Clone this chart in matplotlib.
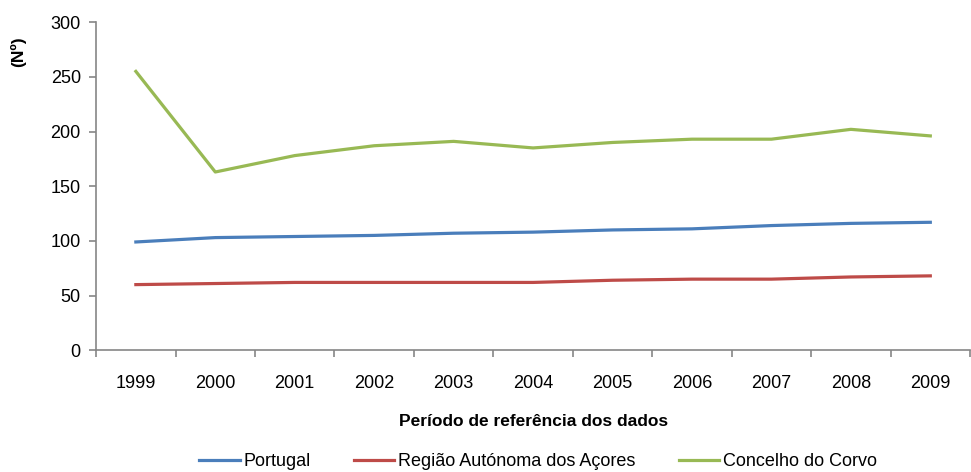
import matplotlib.pyplot as plt
from matplotlib.ticker import FixedLocator

plt.rcParams['font.family'] = ['Liberation Sans', 'DejaVu Sans']

# dados
anos = ['1999', '2000', '2001', '2002', '2003', '2004', '2005', '2006', '2007', '2008', '2009']
portugal = [99, 103, 104, 105, 107, 108, 110, 111, 114, 116, 117]
acores = [60, 61, 62, 62, 62, 62, 64, 65, 65, 67, 68]
corvo = [255, 163, 178, 187, 191, 185, 190, 193, 193, 202, 196]

fig = plt.figure(figsize=(9.71, 4.72), dpi=100)
ax = fig.add_axes([0.099, 0.258, 0.900, 0.695])

x = list(range(len(anos)))
ax.plot(x, portugal, color='#4A7EBB', lw=2.3, label='Portugal')
ax.plot(x, acores, color='#BE4B48', lw=2.3, label='Região Autónoma dos Açores')
ax.plot(x, corvo, color='#98B954', lw=2.3, label='Concelho do Corvo')

ax.set_xlim(-0.5, len(anos) - 0.5)
ax.set_ylim(0, 300)
ax.set_yticks(range(0, 301, 50))
ax.set_xticks(x)
ax.set_xticklabels(anos)
ax.xaxis.set_minor_locator(FixedLocator([i - 0.5 for i in range(len(anos) + 1)]))
ax.tick_params(axis='x', which='major', length=0, labelsize=13, pad=18)
ax.tick_params(axis='x', which='minor', length=5, color='#868686', width=1.2)
ax.tick_params(axis='y', length=5, color='#868686', width=1.2, labelsize=13, pad=6)

for s in ['top', 'right']:
    ax.spines[s].set_visible(False)
for s in ['left', 'bottom']:
    ax.spines[s].set_color('#868686')
    ax.spines[s].set_linewidth(1.2)

ax.set_xlabel('Período de referência dos dados', fontsize=12.5, fontweight='bold', labelpad=16)
fig.text(0.019, 0.89, '(Nº)', rotation=90, fontsize=12.5, fontweight='bold', ha='center', va='center')

fig.legend(loc='lower center', ncol=3, frameon=False, fontsize=13,
           bbox_to_anchor=(0.554, -0.03), handlelength=2.25, handletextpad=0.2, columnspacing=2.4)

plt.savefig('out.png', dpi=100)
